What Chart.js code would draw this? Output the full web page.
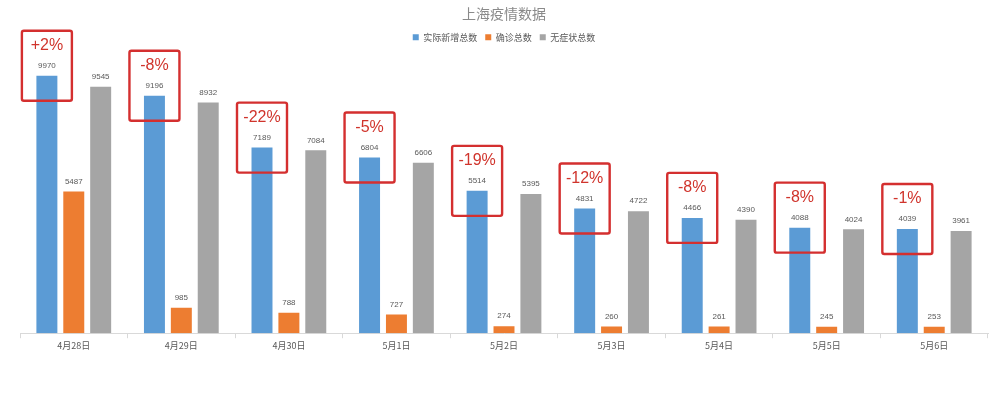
<!DOCTYPE html>
<html>
<head>
<meta charset="utf-8">
<script src="https://cdn.jsdelivr.net/npm/chart.js@4.4.1/dist/chart.umd.min.js"></script>
<style>
html,body{margin:0;padding:0;background:#fff;}
#wrap{width:1000px;height:404px;position:relative;}
</style>
</head>
<body>
<div id="wrap"><canvas id="c" width="1000" height="404"></canvas></div>
<script>
const categories = ["4月28日","4月29日","4月30日","5月1日","5月2日","5月3日","5月4日","5月5日","5月6日"];
const seriesNames = ["实际新增总数","确诊总数","无症状总数"];
const newTotal = [9970, 9196, 7189, 6804, 5514, 4831, 4466, 4088, 4039];
const confirmed = [5487, 985, 788, 727, 274, 260, 261, 245, 253];
const asymptomatic = [9545, 8932, 7084, 6606, 5395, 4722, 4390, 4024, 3961];
const changeLabels = ["+2%","-8%","-22%","-5%","-19%","-12%","-8%","-8%","-1%"];

const valueLabelPlugin = {
  id: 'valueLabels',
  afterDatasetsDraw(chart) {
    const ctx = chart.ctx;
    ctx.save();
    ctx.font = '8px "Liberation Sans", Arial, sans-serif';
    ctx.fillStyle = '#595959';
    ctx.textAlign = 'center';
    ctx.textBaseline = 'middle';
    chart.data.datasets.forEach((ds, di) => {
      const meta = chart.getDatasetMeta(di);
      meta.data.forEach((bar, i) => {
        ctx.fillText(String(ds.data[i]), bar.x, bar.y - 10);
      });
    });
    ctx.restore();
  }
};

const changeBoxPlugin = {
  id: 'changeBoxes',
  afterDatasetsDraw(chart) {
    const ctx = chart.ctx;
    const meta = chart.getDatasetMeta(0);
    ctx.save();
    meta.data.forEach((bar, i) => {
      const w = 50;
      const x0 = bar.x - w / 2;
      const y0 = bar.y - 45;
      const h = 70;
      ctx.strokeStyle = '#d42f2f';
      ctx.lineWidth = 2.4;
      ctx.lineJoin = 'round';
      ctx.beginPath();
      if (ctx.roundRect) { ctx.roundRect(x0, y0, w, h, 2); } else { ctx.rect(x0, y0, w, h); }
      ctx.stroke();
      ctx.font = '16px "Liberation Sans", Arial, sans-serif';
      ctx.fillStyle = '#d0342c';
      ctx.textAlign = 'center';
      ctx.textBaseline = 'middle';
      ctx.fillText(changeLabels[i], bar.x, bar.y - 30);
    });
    ctx.restore();
  }
};

new Chart(document.getElementById('c'), {
  type: 'bar',
  data: {
    labels: categories,
    datasets: [
      { label: seriesNames[0], data: newTotal, backgroundColor: '#5b9bd5' },
      { label: seriesNames[1], data: confirmed, backgroundColor: '#ed7d31' },
      { label: seriesNames[2], data: asymptomatic, backgroundColor: '#a5a5a5' }
    ]
  },
  options: {
    responsive: false,
    animation: false,
    devicePixelRatio: 1,
    layout: { padding: { left: 20, right: 12, top: 4, bottom: 51 } },
    datasets: { bar: { categoryPercentage: 0.75, barPercentage: 0.78 } },
    plugins: {
      title: {
        display: true,
        text: '上海疫情数据',
        color: '#8a8a8a',
        font: { family: '"Noto Sans CJK SC", sans-serif', size: 14, weight: 'normal' },
        padding: { top: 1, bottom: 3 }
      },
      legend: {
        display: true,
        position: 'top',
        labels: {
          boxWidth: 6,
          boxHeight: 6,
          padding: 8,
          color: '#595959',
          font: { family: '"Noto Sans CJK SC", sans-serif', size: 9 }
        }
      },
      tooltip: { enabled: false }
    },
    scales: {
      x: {
        offset: true,
        grid: { display: true, drawOnChartArea: false, drawTicks: true, tickLength: 5, color: '#d9d9d9', offset: true },
        border: { display: true, color: '#d9d9d9' },
        ticks: { color: '#595959', padding: 2, font: { family: '"Noto Sans CJK SC", sans-serif', size: 9 } }
      },
      y: {
        display: false,
        min: 0,
        max: 10900
      }
    }
  },
  plugins: [valueLabelPlugin, changeBoxPlugin]
});
</script>
</body>
</html>
